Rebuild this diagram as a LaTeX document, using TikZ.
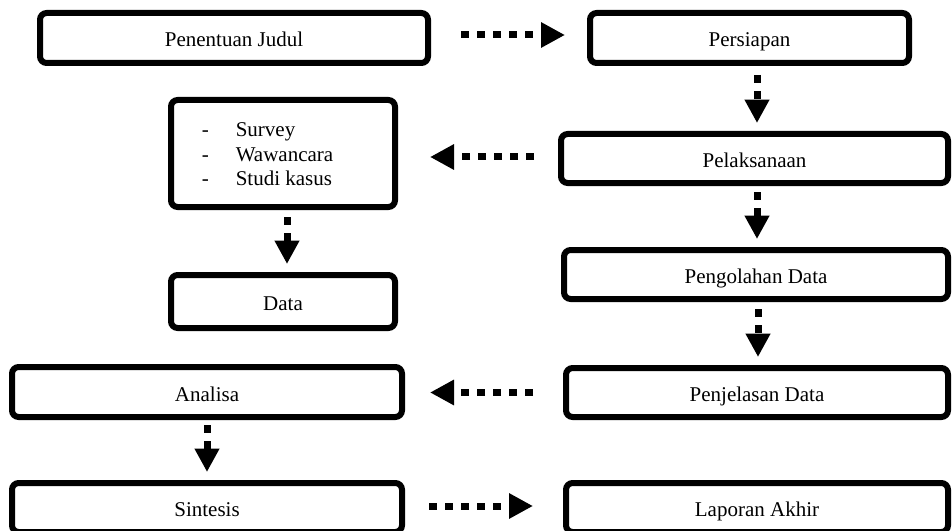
\documentclass[tikz,border=0pt]{standalone}
\usepackage{fontspec}
\setmainfont{Liberation Serif}
\usetikzlibrary{arrows.meta}
\begin{document}
\begin{tikzpicture}[x=0.75pt,y=-0.75pt,
  every node/.style={font=\fontsize{15.75}{18.4}\selectfont},
  box/.style={draw, line width=4.5pt, rounded corners=5pt, inner sep=0pt, align=center},
  lbl/.style={box, text height=13.5pt, text depth=0pt},
  hflow/.style={line width=5.25pt,
    dash pattern=on 6pt off 6pt on 6pt off 6pt on 6pt off 6pt on 6pt off 6pt on 6pt off 60pt,
    -{Triangle[length=18pt,width=18pt]}},
  vflow/.style={line width=5.25pt,
    dash pattern=on 6pt off 6pt on 6pt off 60pt,
    -{Triangle[length=17.5pt,width=17.5pt]}}]
\useasboundingbox (0,0) rectangle (952,531);
% boxes
\node[lbl, minimum width=291pt, minimum height=37.5pt] (judul) at (234,38) {Penentuan Judul};
\node[lbl, minimum width=239.25pt, minimum height=37.5pt] (pers) at (749.5,38) {Persiapan};
\node[lbl, minimum width=290.25pt, minimum height=36.75pt] (pel) at (754.5,158.5) {Pelaksanaan};
\node[lbl, minimum width=288pt, minimum height=36.75pt] (peng) at (756,274.5) {Pengolahan Data};
\node[lbl, minimum width=286.5pt, minimum height=36.75pt] (penj) at (757,392.5) {Penjelasan Data};
\node[lbl, minimum width=286.5pt, minimum height=36.75pt] (lap) at (757,507.5) {Laporan Akhir};
\node[box, minimum width=168pt, minimum height=80.25pt] (list) at (283,153.5)
  {\begin{tabular}{@{}l@{\hspace{23.25pt}}}\rule{0pt}{17.4pt}\makebox[25.5pt][l]{-}Survey\\
   \makebox[25.5pt][l]{-}Wawancara\\
   \makebox[25.5pt][l]{-}Studi kasus\end{tabular}};
\node[lbl, minimum width=168pt, minimum height=39.75pt] (data) at (283,301.5) {Data};
\node[lbl, minimum width=292.5pt, minimum height=37.5pt] (anal) at (207,392) {Analisa};
\node[lbl, minimum width=292.5pt, minimum height=36.75pt] (sint) at (207,507.5) {Sintesis};
% x positions of vertical connectors
\coordinate (xr) at (757,0);
\coordinate (xr2) at (758,0);
\coordinate (xl) at (287,0);
\coordinate (xa) at (207,0);
% horizontal connectors
\draw[hflow, shorten <=22.5pt, shorten >=16.5pt] ([yshift=2.25pt]judul.east) -- ([yshift=2.25pt]pers.west);
\draw[hflow, shorten <=18pt, shorten >=24pt] ([yshift=1.125pt]pel.west) -- ([yshift=1.125pt]pel.west -| list.east);
\draw[hflow, shorten <=22.5pt, shorten >=18.75pt] (penj.west) -- (penj.west -| anal.east);
\draw[hflow, shorten <=18pt, shorten >=22.5pt] ([yshift=1.125pt]sint.east) -- ([yshift=1.125pt]sint.east -| lap.west);
% vertical connectors
\draw[vflow, shorten <=6.75pt, shorten >=6pt] (pers.south -| xr) -- (pel.north -| xr);
\draw[vflow, shorten <=4.5pt, shorten >=6pt] (pel.south -| xr) -- (peng.north -| xr);
\draw[vflow, shorten <=5.25pt, shorten >=6pt] (peng.south -| xr2) -- (penj.north -| xr2);
\draw[vflow, shorten <=5.25pt, shorten >=6pt] (list.south -| xl) -- (data.north -| xl);
\draw[vflow, shorten <=3.75pt, shorten >=6pt] (anal.south -| xa) -- (sint.north -| xa);
\end{tikzpicture}
\end{document}
